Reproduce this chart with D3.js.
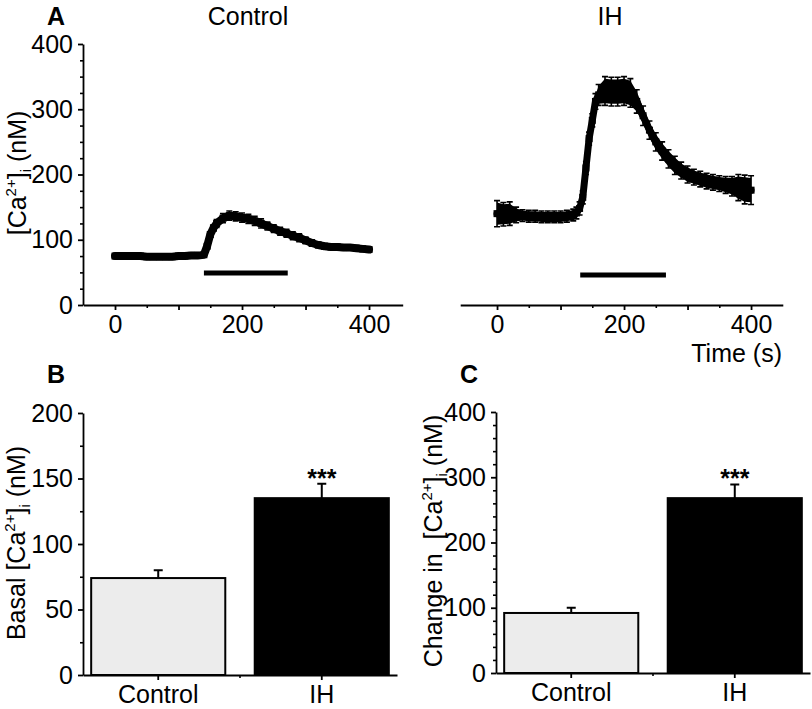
<!DOCTYPE html>
<html><head><meta charset="utf-8">
<script src="https://cdn.jsdelivr.net/npm/d3@7"></script>
<style>
body{margin:0;background:#fff}
text{font-family:"Liberation Sans",Arial,Helvetica,sans-serif}
</style>
</head><body>
<svg id="chart" width="812" height="709"></svg>
<script>
// ---------------- DATA ----------------
const ctrlTime = [0,10,20,30,40,50,60,70,80,90,100,110,120,130,140,145,150,155,160,170,180,190,200,210,220,230,240,250,260,270,280,290,300,310,320,330,340,350,360,370,380,390,400];
const ctrlMean = [75,75,75,75,75,74,74,74,74,74,75,75,76,76,77,90,108,118,125,133,137,136,134,132,129,125,121,117,113,110,106,103,99,95,92,90,89,89,88,88,87,86,85];
const ctrlSem  = [2,2,2,2,2,2,2,2,2,2,2,2,2,2,2,3,4,5,6,7,7,7,7,7,7,7,6,6,6,6,6,6,5,5,4,4,4,4,4,4,4,4,4];

const ihTime = [0,10,20,30,40,50,60,70,80,90,100,110,120,125,130,135,140,145,150,155,160,170,180,190,200,210,220,230,240,250,260,270,280,290,300,310,320,330,340,350,360,370,380,390,400];
const ihMean = [140,139,140,138,137,136,136,135,135,135,135,136,138,141,148,165,210,255,283,312,322,328,327,327,328,325,312,290,268,250,236,224,214,206,200,196,193,190,188,186,184,182,180,177,176];
const ihSem  = [20,18,18,12,9,9,9,9,9,9,9,9,9,9,10,10,10,10,10,12,16,22,22,22,22,22,18,15,14,14,14,14,14,13,13,12,12,12,12,12,13,15,20,22,22];

const stimCtrl = [140, 272];
const stimIH = [131, 266];
const stimLevel = [49, 46];

const traceYTicks = [0,100,200,300,400];
const traceXLabels = [0,200,400];

const groups = ["Control","IH"];
const basalMean = [74,135];
const basalSem = [6,11];
const changeMean = [92,268];
const changeSem = [8,21];
const basalTicks = [0,50,100,150,200];
const changeTicks = [0,100,200,300,400];
const sigLabels = ["","***"];

// ---------------- DRAW ----------------
const FONT = '"Liberation Sans", Arial, Helvetica, sans-serif';
const FS = 25;
const svg = d3.select("#chart");

function styleAxis(g){
  g.attr("font-size", FS).attr("font-family", FONT);
  g.select(".domain").attr("stroke-width", 1.8);
  g.selectAll(".tick line").attr("stroke-width", 1.8);
}
function minorAxis(g){
  g.select(".domain").remove();
  g.selectAll(".tick line").attr("stroke-width", 1.6);
  g.selectAll(".tick text").remove();
}
function range(a,b,s){const r=[];for(let v=a;v<=b+1e-9;v+=s)r.push(v);return r;}

// Panel A scales
const yA = d3.scaleLinear().domain([0,400]).range([305,44]);
const xCtrl = d3.scaleLinear().domain([-50,453]).range([83.25,402.7]);
const xIH = d3.scaleLinear().domain([-58,450]).range([460.2,782.8]);

// y axis (control only)
svg.append("g").attr("transform","translate(83,0)")
  .call(d3.axisLeft(yA).tickValues(range(0,400,25).filter(v=>v%100)).tickSize(3).tickFormat(""))
  .call(minorAxis);
svg.append("g").attr("transform","translate(83,0)")
  .call(d3.axisLeft(yA).tickValues(traceYTicks).tickSize(5).tickPadding(5).tickSizeOuter(0))
  .call(styleAxis);

function traceXAxis(x){
  svg.append("g").attr("transform","translate(0,305)")
    .call(d3.axisBottom(x).tickValues([50,150,250,350]).tickSize(3).tickFormat(""))
    .call(minorAxis);
  svg.append("g").attr("transform","translate(0,305)")
    .call(d3.axisBottom(x).tickValues([0,100,200,300,400]).tickSize(5).tickPadding(5).tickSizeOuter(0)
      .tickFormat(d => traceXLabels.includes(d) ? d : ""))
    .call(styleAxis);
}
traceXAxis(xCtrl);
traceXAxis(xIH);

function drawTrace(x, t, m, s, lw){
  const pts = t.map((d,i)=>({t:d, m:m[i], s:s[i]}));
  const g = svg.append("g");
  g.append("path").datum(pts)
    .attr("d", d3.area().x(d=>x(d.t)).y0(d=>yA(d.m-d.s*0.85)).y1(d=>yA(d.m+d.s*0.85)))
    .attr("fill","#000");
  g.selectAll(null).data(pts).join("path")
    .attr("d", d => {
      const px = x(d.t), y1 = yA(d.m+d.s), y0 = yA(d.m-d.s);
      return `M${px-3},${y1}h6M${px},${y1}V${y0}M${px-3},${y0}h6`;
    })
    .attr("stroke","#000").attr("stroke-width",1.6).attr("fill","none");
  g.append("path").datum(pts)
    .attr("d", d3.line().x(d=>x(d.t)).y(d=>yA(d.m)))
    .attr("stroke","#000").attr("stroke-width",lw).attr("fill","none")
    .attr("stroke-linejoin","round").attr("stroke-linecap","round");
  g.selectAll(null).data(pts).join("rect")
    .attr("x", d=>x(d.t)-3.5).attr("y", d=>yA(d.m)-3.5).attr("width",7).attr("height",7).attr("fill","#000");
}
drawTrace(xCtrl, ctrlTime, ctrlMean, ctrlSem, 8);
drawTrace(xIH, ihTime, ihMean, ihSem, 7);

// stimulus bars
svg.append("line").attr("x1", xCtrl(stimCtrl[0])).attr("x2", xCtrl(stimCtrl[1]))
  .attr("y1", yA(stimLevel[0])).attr("y2", yA(stimLevel[0])).attr("stroke","#000").attr("stroke-width",5);
svg.append("line").attr("x1", xIH(stimIH[0])).attr("x2", xIH(stimIH[1]))
  .attr("y1", yA(stimLevel[1])).attr("y2", yA(stimLevel[1])).attr("stroke","#000").attr("stroke-width",5);

// texts panel A
svg.append("text").attr("x",47).attr("y",25).attr("font-size",FS).attr("font-weight","bold").text("A");
svg.append("text").attr("x",248).attr("y",25).attr("font-size",FS).attr("text-anchor","middle").text("Control");
svg.append("text").attr("x",610).attr("y",25).attr("font-size",FS).attr("text-anchor","middle").text("IH");
svg.append("text").attr("x",782).attr("y",362).attr("font-size",FS).attr("text-anchor","end").text("Time (s)");

function caLabel(x, y, prefix){
  const t = svg.append("text").attr("transform",`translate(${x},${y}) rotate(-90)`)
    .attr("text-anchor","middle").attr("font-size",FS).style("white-space","pre");
  t.append("tspan").text(prefix + "[Ca");
  t.append("tspan").attr("font-size",15).attr("dy",-10).text("2+");
  t.append("tspan").attr("dy",10).text("]");
  t.append("tspan").attr("font-size",15).attr("dy",5).text("i");
  t.append("tspan").attr("dy",-5).text(" (nM)");
}
caLabel(26, 173, "");
caLabel(25, 543, "Basal ");
caLabel(442, 541, "Change in  ");

// ---------------- Bar panels ----------------
function barPanel(x0, x1, yTop, yBot, maxV, majors, minorStep, means, sems, letter, letterX){
  const y = d3.scaleLinear().domain([0,maxV]).range([yBot,yTop]);
  const x = d3.scaleBand().domain(groups).range([x0,x1]).paddingInner(0.18).paddingOuter(0.05);
  svg.append("g").attr("transform",`translate(${x0},0)`)
    .call(d3.axisLeft(y).tickValues(range(0,maxV,minorStep).filter(v=>!majors.includes(v))).tickSize(3).tickFormat(""))
    .call(minorAxis);
  svg.append("g").attr("transform",`translate(${x0},0)`)
    .call(d3.axisLeft(y).tickValues(majors).tickSize(5).tickPadding(5).tickSizeOuter(0))
    .call(styleAxis);
  const data = groups.map((gname,i)=>({g:gname, m:means[i], s:sems[i], sig:sigLabels[i]}));
  svg.selectAll(null).data(data).join("rect")
    .attr("x", d=>x(d.g)).attr("width", x.bandwidth())
    .attr("y", d=>y(d.m)).attr("height", d=>y(0)-y(d.m))
    .attr("fill", (d,i)=> i===0 ? "#ececec" : "#000")
    .attr("stroke","#000").attr("stroke-width",2);
  svg.selectAll(null).data(data).join("path")
    .attr("d", d=>{
      const cx = x(d.g)+x.bandwidth()/2;
      return `M${cx},${y(d.m)}V${y(d.m+d.s)}M${cx-4.5},${y(d.m+d.s)}h9`;
    })
    .attr("stroke","#000").attr("stroke-width",2).attr("fill","none");
  svg.selectAll(null).data(data.filter(d=>d.sig)).join("text")
    .attr("x", d=>x(d.g)+x.bandwidth()/2).attr("y", d=>y(d.m+d.s)+3)
    .attr("text-anchor","middle").attr("font-size",FS).attr("font-weight","bold").text(d=>d.sig);
  svg.append("g").attr("transform",`translate(0,${yBot})`)
    .call(d3.axisBottom(x).tickSize(5).tickPadding(5).tickSizeOuter(0))
    .call(styleAxis);
  const mid = (x(groups[0]) + x(groups[1]))/2 + x.bandwidth()/2;
  svg.append("line").attr("x1",mid).attr("x2",mid).attr("y1",yBot).attr("y2",yBot+3)
    .attr("stroke","#000").attr("stroke-width",1.6);
  svg.append("text").attr("x",letterX).attr("y",383).attr("font-size",FS).attr("font-weight","bold").text(letter);
}
barPanel(83, 397, 413, 675, 200, basalTicks, 25, basalMean, basalSem, "B", 47);
barPanel(496, 810, 412, 673, 400, changeTicks, 20, changeMean, changeSem, "C", 460);
</script>
</body></html>
